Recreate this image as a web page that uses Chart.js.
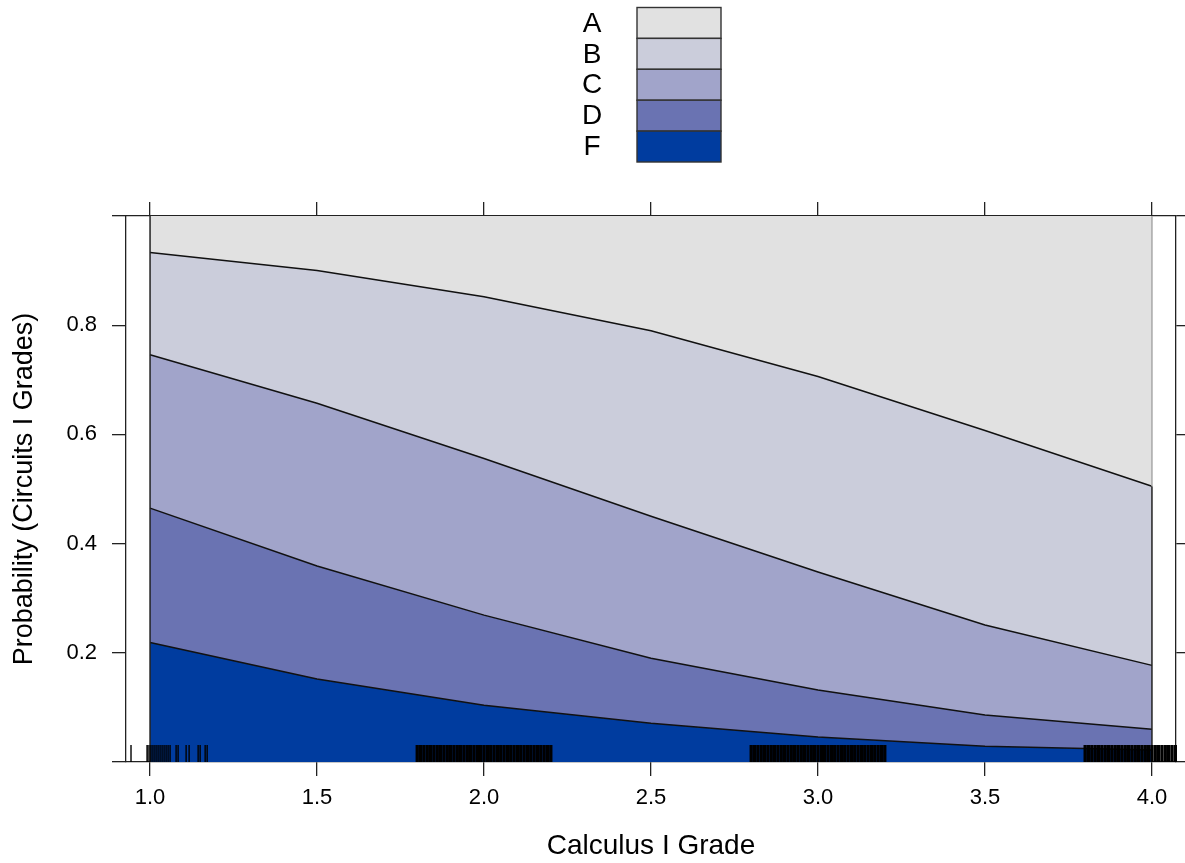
<!DOCTYPE html>
<html><head><meta charset="utf-8">
<script src="https://cdn.jsdelivr.net/npm/chart.js@4.4.1/dist/chart.umd.min.js"></script>
<style>html,body{margin:0;padding:0;background:#fff;}</style>
</head><body>
<canvas id="c" width="1185" height="863"></canvas>
<script>
// ---- data ----
const grades = ['A', 'B', 'C', 'D', 'F'];
const calcGrade = [1.0, 1.5, 2.0, 2.5, 3.0, 3.5, 4.0];
const probF = [0.219, 0.152, 0.104, 0.071, 0.046, 0.029, 0.022];
const probD = [0.246, 0.207, 0.165, 0.119, 0.086, 0.057, 0.038];
const probC = [0.281, 0.298, 0.287, 0.260, 0.216, 0.165, 0.117];
const probB = [0.187, 0.243, 0.296, 0.340, 0.358, 0.356, 0.328];
const probA = [0.067, 0.100, 0.148, 0.210, 0.294, 0.393, 0.495];
const xTickValues = [1.0, 1.5, 2.0, 2.5, 3.0, 3.5, 4.0];
const yTickValues = [0, 0.2, 0.4, 0.6, 0.8, 1.0];
const yTickLabels = ['', '0.2', '0.4', '0.6', '0.8', ''];
const rugSparse = [0.943, 0.991, 0.994, 1.000, 1.006, 1.012, 1.018, 1.024, 1.030, 1.036, 1.042, 1.048, 1.054, 1.060,
  1.078, 1.084, 1.108, 1.117, 1.144, 1.150, 1.165, 1.171];
const rugBand2 = [1.80, 1.81, 1.82, 1.83, 1.84, 1.85, 1.86, 1.87, 1.88, 1.89, 1.90, 1.91, 1.92, 1.93, 1.94, 1.95, 1.96,
  1.97, 1.98, 1.99, 2.00, 2.01, 2.02, 2.03, 2.04, 2.05, 2.06, 2.07, 2.08, 2.09, 2.10, 2.11, 2.12, 2.13, 2.14, 2.15,
  2.16, 2.17, 2.18, 2.19, 2.20];
const rugBand3 = [2.80, 2.81, 2.82, 2.83, 2.84, 2.85, 2.86, 2.87, 2.88, 2.89, 2.90, 2.91, 2.92, 2.93, 2.94, 2.95, 2.96,
  2.97, 2.98, 2.99, 3.00, 3.01, 3.02, 3.03, 3.04, 3.05, 3.06, 3.07, 3.08, 3.09, 3.10, 3.11, 3.12, 3.13, 3.14, 3.15,
  3.16, 3.17, 3.18, 3.19, 3.20];
const rugBand4 = [3.80, 3.81, 3.82, 3.83, 3.84, 3.85, 3.86, 3.87, 3.88, 3.89, 3.90, 3.91, 3.92, 3.93, 3.94, 3.95, 3.96,
  3.97, 3.98, 3.99, 4.00, 4.01, 4.02, 4.03, 4.04, 4.05, 4.06, 4.07];

const gradeColors = {A: '#e1e1e1', B: '#cbcddb', C: '#a1a4ca', D: '#6a73b2', F: '#003c9f'};
const FONT = '"Liberation Sans", Arial, Helvetica, sans-serif';

function pts(arr) { return calcGrade.map((x, i) => ({x: x, y: arr[i]})); }

// stacked bottom-to-top: F, D, C, B, A
const seriesOrder = [['F', probF], ['D', probD], ['C', probC], ['B', probB], ['A', probA]];
const datasets = seriesOrder.map(([g, arr], i) => ({
  label: g,
  data: pts(arr),
  backgroundColor: gradeColors[g],
  borderColor: g === 'A' ? 'rgba(0,0,0,0)' : '#111',
  borderWidth: g === 'A' ? 0 : 1.5,
  pointRadius: 0,
  tension: 0,
  fill: i === 0 ? 'origin' : '-1'
}));

const extras = {
  id: 'extras',
  afterDatasetsDraw(chart) {
    const ctx = chart.ctx, xs = chart.scales.x, ys = chart.scales.y, ca = chart.chartArea;
    ctx.save();
    const x0 = xs.getPixelForValue(calcGrade[0]);
    const x1 = xs.getPixelForValue(calcGrade[calcGrade.length - 1]);
    ctx.lineWidth = 1.5;
    ctx.strokeStyle = '#222';
    ctx.beginPath(); ctx.moveTo(x0, ys.getPixelForValue(0)); ctx.lineTo(x0, ys.getPixelForValue(1)); ctx.stroke();
    const n = calcGrade.length - 1;
    const topB = probF[n] + probD[n] + probC[n] + probB[n];
    ctx.beginPath(); ctx.moveTo(x1, ys.getPixelForValue(0)); ctx.lineTo(x1, ys.getPixelForValue(topB)); ctx.stroke();
    ctx.strokeStyle = '#a8a8a8';
    ctx.beginPath(); ctx.moveTo(x1, ys.getPixelForValue(topB)); ctx.lineTo(x1, ys.getPixelForValue(1)); ctx.stroke();
    // rug
    ctx.strokeStyle = '#000';
    const yb = ca.bottom, yt = ca.bottom - 17;
    ctx.lineWidth = 1.4;
    rugSparse.forEach(v => { const p = xs.getPixelForValue(v); ctx.beginPath(); ctx.moveTo(p, yb); ctx.lineTo(p, yt); ctx.stroke(); });
    ctx.lineWidth = 3.3;
    [rugBand2, rugBand3, rugBand4].forEach(band => band.forEach(v => {
      const p = xs.getPixelForValue(v); ctx.beginPath(); ctx.moveTo(p, yb); ctx.lineTo(p, yt); ctx.stroke();
    }));
    ctx.restore();
  },
  afterDraw(chart) {
    const ctx = chart.ctx;
    ctx.save();
    const bx = 637, bw = 84, by = 7.5, rh = 30.9;
    grades.forEach((g, i) => {
      const y = by + i * rh;
      ctx.fillStyle = gradeColors[g];
      ctx.fillRect(bx, y, bw, rh);
      ctx.strokeStyle = '#333';
      ctx.lineWidth = 1.4;
      ctx.strokeRect(bx, y, bw, rh);
      ctx.fillStyle = '#000';
      ctx.font = '28px ' + FONT;
      ctx.textAlign = 'center';
      ctx.textBaseline = 'middle';
      ctx.fillText(g, 592, y + rh / 2 + 1);
    });
    ctx.restore();
  }
};

const gridOpts = {drawOnChartArea: false, drawTicks: true, tickLength: 14, color: '#222', lineWidth: 1.3};
const borderOpts = {display: true, color: '#222', width: 1.3};

new Chart(document.getElementById('c'), {
  type: 'line',
  data: {datasets: datasets},
  plugins: [extras],
  options: {
    responsive: false,
    animation: false,
    devicePixelRatio: 1,
    layout: {padding: 0},
    plugins: {legend: {display: false}, tooltip: {enabled: false}, title: {display: false}},
    scales: {
      x: {
        type: 'linear', position: 'bottom', min: 0.928, max: 4.072, bounds: 'data',
        afterBuildTicks: a => { a.ticks = xTickValues.map(v => ({value: v})); },
        ticks: {callback: v => Number(v).toFixed(1), font: {size: 22, family: FONT}, color: '#000', padding: 9, maxRotation: 0, autoSkip: false},
        grid: gridOpts, border: borderOpts,
        title: {display: true, text: 'Calculus I Grade', font: {size: 28, family: FONT}, color: '#000', padding: {top: 0, bottom: 0}},
        afterFit: s => { s.height = 101; }
      },
      x2: {
        type: 'linear', position: 'top', min: 0.928, max: 4.072, bounds: 'data',
        afterBuildTicks: a => { a.ticks = xTickValues.map(v => ({value: v})); },
        ticks: {callback: () => '', font: {size: 22, family: FONT}},
        grid: gridOpts, border: borderOpts,
        afterFit: s => { s.height = 216; }
      },
      y: {
        type: 'linear', position: 'left', stacked: true, min: 0, max: 1, bounds: 'data',
        afterBuildTicks: a => { a.ticks = yTickValues.map(v => ({value: v})); },
        ticks: {callback: (v, i) => yTickLabels[i], font: {size: 22, family: FONT}, color: '#000', padding: 15},
        grid: gridOpts, border: borderOpts,
        title: {display: true, text: 'Probability (Circuits I Grades)', font: {size: 27, family: FONT}, color: '#000', padding: {top: 8, bottom: 0}},
        afterFit: s => { s.width = 126; }
      },
      y2: {
        type: 'linear', position: 'right', min: 0, max: 1, bounds: 'data',
        afterBuildTicks: a => { a.ticks = yTickValues.map(v => ({value: v})); },
        ticks: {callback: () => '', font: {size: 22, family: FONT}},
        grid: gridOpts, border: borderOpts,
        afterFit: s => { s.width = 9; }
      }
    }
  }
});
</script>
</body></html>
